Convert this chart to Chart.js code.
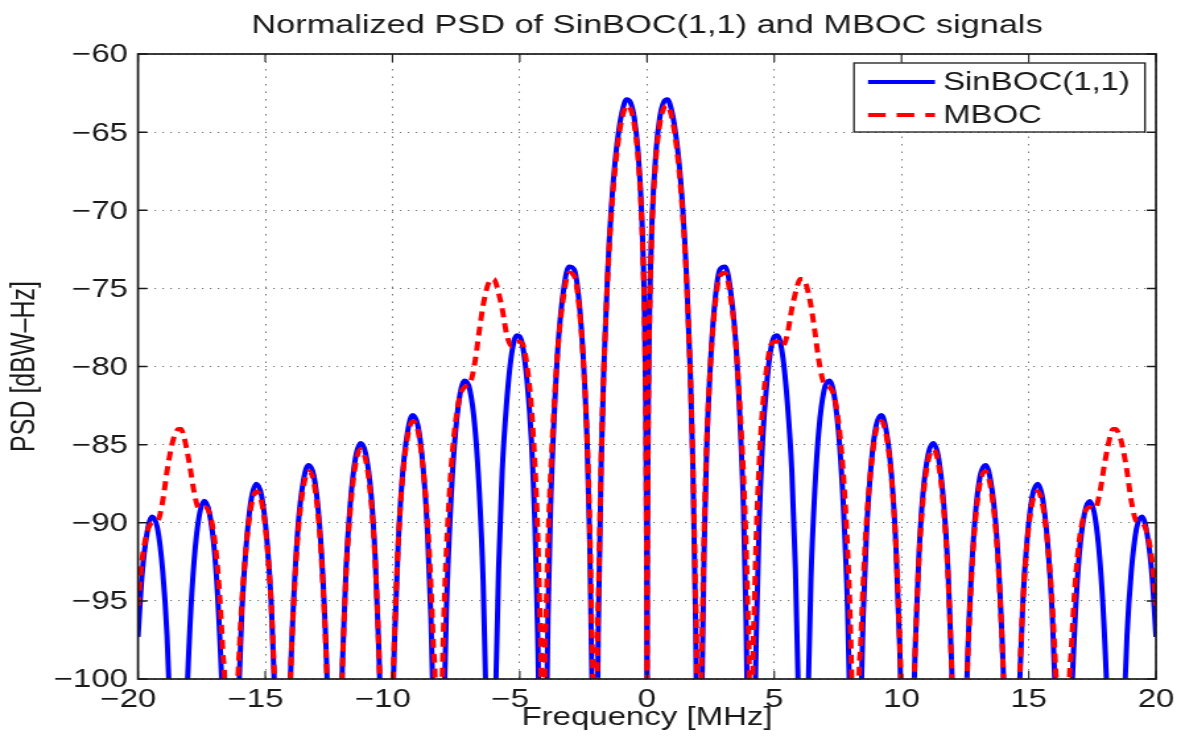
<!DOCTYPE html>
<html>
<head>
<meta charset="utf-8">
<title>Normalized PSD of SinBOC(1,1) and MBOC signals</title>
<script src="https://cdn.jsdelivr.net/npm/chart.js@4.4.1/dist/chart.umd.min.js"></script>
<style>
  html, body { margin: 0; padding: 0; background: #ffffff; width: 1181px; height: 742px; overflow: hidden; }
  #psd { display: block; }
</style>
</head>
<body>
<canvas id="psd" width="895" height="742" style="width:1181px;height:742px"></canvas>
<script>
// ---------------- data ----------------
const chartTitle = 'Normalized PSD of SinBOC(1,1) and MBOC signals';
const xAxisTitle = 'Frequency [MHz]';
const yAxisTitle = 'PSD [dBW\u2013Hz]';
const seriesNames = ['SinBOC(1,1)', 'MBOC'];
const xTickValues = [-20, -15, -10, -5, 0, 5, 10, 15, 20];
const yTickValues = [-100, -95, -90, -85, -80, -75, -70, -65, -60];

// frequency samples [MHz]
const freqMHz = [
  -20, -19.85, -19.64, -19.44, -19.23, -19.03, -18.86, -18.72, -18.62, -18.51, -18.414,
  -18.31, -18.21, -18.11, -17.96, -17.8, -17.6, -17.39, -17.19, -16.98, -16.82, -16.67, -16.57, -16.368,
  -16.16, -16.06, -15.92, -15.75, -15.55, -15.35, -15.14, -14.94, -14.77, -14.63, -14.53, -14.322,
  -14.2, -14.12, -14.02, -13.87, -13.71, -13.5, -13.3, -13.09, -12.89, -12.73, -12.58, -12.48, -12.4, -12.276,
  -12.15, -12.07, -11.97, -11.83, -11.66, -11.46, -11.25, -11.05, -10.84, -10.68, -10.54, -10.43, -10.35, -10.23,
  -10.11, -10.03, -9.92, -9.78, -9.62, -9.41, -9.21, -9.0, -8.8, -8.63, -8.49, -8.39, -8.31, -8.184,
  -8.12, -8.06, -7.98, -7.88, -7.73, -7.57, -7.37, -7.16, -6.96, -6.75, -6.59, -6.44, -6.34, -6.26, -6.2, -6.138,
  -6.08, -6.02, -5.93, -5.83, -5.69, -5.52, -5.32, -5.115, -4.91, -4.71, -4.54, -4.4, -4.3, -4.21, -4.15, -4.092,
  -4.03, -3.97, -3.89, -3.79, -3.64, -3.48, -3.27, -3.07, -2.86, -2.66, -2.5, -2.35, -2.25, -2.17, -2.11, -2.046,
  -1.96, -1.9, -1.8, -1.7, -1.55, -1.4, -1.25, -1.1, -0.95, -0.8, -0.65, -0.5, -0.35, -0.2, -0.1, -0.05, -0.02, -0.005,
  0, 0.005, 0.02, 0.05, 0.1, 0.2, 0.35, 0.5, 0.65, 0.8, 0.95, 1.1, 1.25, 1.4, 1.55, 1.7, 1.8, 1.9, 1.96,
  2.046, 2.11, 2.17, 2.25, 2.35, 2.5, 2.66, 2.86, 3.07, 3.27, 3.48, 3.64, 3.79, 3.89, 3.97, 4.03,
  4.092, 4.15, 4.21, 4.3, 4.4, 4.54, 4.71, 4.91, 5.115, 5.32, 5.52, 5.69, 5.83, 5.93, 6.02, 6.08,
  6.138, 6.2, 6.26, 6.34, 6.44, 6.59, 6.75, 6.96, 7.16, 7.37, 7.57, 7.73, 7.88, 7.98, 8.06, 8.12,
  8.184, 8.31, 8.39, 8.49, 8.63, 8.8, 9.0, 9.21, 9.41, 9.62, 9.78, 9.92, 10.03, 10.11,
  10.23, 10.35, 10.43, 10.54, 10.68, 10.84, 11.05, 11.25, 11.46, 11.66, 11.83, 11.97, 12.07, 12.15,
  12.276, 12.4, 12.48, 12.58, 12.73, 12.89, 13.09, 13.3, 13.5, 13.71, 13.87, 14.02, 14.12, 14.2,
  14.322, 14.53, 14.63, 14.77, 14.94, 15.14, 15.35, 15.55, 15.75, 15.92, 16.06, 16.16,
  16.368, 16.57, 16.67, 16.82, 16.98, 17.19, 17.39, 17.6, 17.8, 17.96, 18.11, 18.21, 18.31,
  18.414, 18.51, 18.62, 18.72, 18.86, 19.03, 19.23, 19.44, 19.64, 19.85, 20
];

// SinBOC(1,1) PSD [dB] (values far below -100 stand for the spectral nulls)
const sinBocDb = [
  -97.3, -93.5, -90.6, -89.6, -90.4, -93.1, -97.2, -103.0, -109.6, -122.5, -150,
  -121.0, -109.4, -102.7, -96.7, -92.5, -89.6, -88.6, -89.4, -92.1, -96.2, -102.0, -108.6, -150,
  -108.4, -101.7, -95.7, -91.5, -88.5, -87.5, -88.3, -91.0, -95.0, -100.8, -107.5, -150,
  -116.0, -107.2, -100.5, -94.5, -90.2, -87.3, -86.3, -87.0, -89.7, -93.7, -99.5, -106.2, -114.8, -150,
  -114.6, -105.9, -99.1, -93.1, -88.8, -85.9, -84.9, -85.6, -88.2, -92.2, -98.0, -104.6, -113.2, -150,
  -113.0, -104.2, -97.5, -91.5, -87.2, -84.2, -83.1, -83.8, -86.4, -90.4, -96.1, -102.7, -111.3, -150,
  -123.1, -111.0, -102.3, -95.5, -89.4, -85.1, -82.0, -80.9, -81.5, -84.1, -88.0, -93.7, -100.3, -108.8, -120.7, -150,
  -120.5, -108.5, -99.7, -92.9, -86.7, -82.4, -79.2, -78.0, -78.5, -81.0, -84.8, -90.4, -96.9, -105.4, -117.2, -150,
  -117.0, -104.9, -96.0, -89.1, -82.9, -78.3, -75.0, -73.6, -73.8, -76.0, -79.6, -85.0, -91.3, -99.6, -111.3, -150,
  -104.9, -95.5, -86.2, -80.3, -74.1, -69.8, -66.8, -64.8, -63.5, -62.9, -63.1, -64.1, -66.3, -70.6, -76.4, -82.4, -90.4, -102.4,
  -150, -102.4, -90.4, -82.4, -76.4, -70.6, -66.3, -64.1, -63.1, -62.9, -63.5, -64.8, -66.8, -69.8, -74.1, -80.3, -86.2, -95.5, -104.9,
  -150, -111.3, -99.6, -91.3, -85.0, -79.6, -76.0, -73.8, -73.6, -75.0, -78.3, -82.9, -89.1, -96.0, -104.9, -117.0,
  -150, -117.2, -105.4, -96.9, -90.4, -84.8, -81.0, -78.5, -78.0, -79.2, -82.4, -86.7, -92.9, -99.7, -108.5, -120.5,
  -150, -120.7, -108.8, -100.3, -93.7, -88.0, -84.1, -81.5, -80.9, -82.0, -85.1, -89.4, -95.5, -102.3, -111.0, -123.1,
  -150, -111.3, -102.7, -96.1, -90.4, -86.4, -83.8, -83.1, -84.2, -87.2, -91.5, -97.5, -104.2, -113.0,
  -150, -113.2, -104.6, -98.0, -92.2, -88.2, -85.6, -84.9, -85.9, -88.8, -93.1, -99.1, -105.9, -114.6,
  -150, -114.8, -106.2, -99.5, -93.7, -89.7, -87.0, -86.3, -87.3, -90.2, -94.5, -100.5, -107.2, -116.0,
  -150, -107.5, -100.8, -95.0, -91.0, -88.3, -87.5, -88.5, -91.5, -95.7, -101.7, -108.4,
  -150, -108.6, -102.0, -96.2, -92.1, -89.4, -88.6, -89.6, -92.5, -96.7, -102.7, -109.4, -121.0,
  -150, -122.5, -109.6, -103.0, -97.2, -93.1, -90.4, -89.6, -90.6, -93.5, -97.3
];

// MBOC PSD [dB]
const mbocDb = [
  -95.3, -92.5, -90.6, -90.0, -89.9, -88.6, -86.7, -85.4, -84.7, -84.2, -84.0,
  -84.0, -84.4, -85.1, -86.4, -88.0, -89.1, -89.0, -89.4, -91.2, -94.0, -98.2, -102.5, -150,
  -103.6, -99.5, -95.1, -91.5, -88.9, -88.0, -88.7, -91.2, -95.1, -100.5, -106.4, -150,
  -115.5, -107.0, -100.5, -94.8, -90.6, -87.7, -86.7, -87.4, -90.1, -94.1, -99.9, -106.6, -115.2, -150,
  -115.0, -106.3, -99.5, -93.5, -89.2, -86.3, -85.3, -86.0, -88.6, -92.5, -98.0, -104.1, -111.2, -150,
  -110.4, -103.2, -97.1, -91.5, -87.4, -84.5, -83.5, -84.1, -86.5, -89.8, -94.0, -98.0, -102.4, -150,
  -107.4, -101.1, -96.0, -91.7, -87.3, -84.2, -82.0, -81.3, -81.1, -79.6, -77.7, -76.1, -75.3, -74.8, -74.6, -74.4,
  -74.4, -74.4, -74.7, -75.3, -76.3, -77.9, -78.7, -78.4, -78.5, -80.0, -82.7, -86.5, -90.5, -95.9, -102.4, -150,
  -102.2, -96.1, -91.3, -87.0, -82.3, -78.4, -75.4, -74.0, -74.2, -76.3, -79.7, -84.7, -90.2, -96.9, -104.5, -150,
  -101.0, -94.1, -86.0, -80.4, -74.4, -70.2, -67.3, -65.2, -63.9, -63.3, -63.5, -64.5, -66.7, -71.0, -76.9, -82.8, -90.8, -102.8,
  -150, -102.8, -90.8, -82.8, -76.9, -71.0, -66.7, -64.5, -63.5, -63.3, -63.9, -65.2, -67.3, -70.2, -74.4, -80.4, -86.0, -94.1, -101.0,
  -150, -104.5, -96.9, -90.2, -84.7, -79.7, -76.3, -74.2, -74.0, -75.4, -78.4, -82.3, -87.0, -91.3, -96.1, -102.2,
  -150, -102.4, -95.9, -90.5, -86.5, -82.7, -80.0, -78.5, -78.4, -78.7, -77.9, -76.3, -75.3, -74.7, -74.4, -74.4,
  -74.4, -74.6, -74.8, -75.3, -76.1, -77.7, -79.6, -81.1, -81.3, -82.0, -84.2, -87.3, -91.7, -96.0, -101.1, -107.4,
  -150, -102.4, -98.0, -94.0, -89.8, -86.5, -84.1, -83.5, -84.5, -87.4, -91.5, -97.1, -103.2, -110.4,
  -150, -111.2, -104.1, -98.0, -92.5, -88.6, -86.0, -85.3, -86.3, -89.2, -93.5, -99.5, -106.3, -115.0,
  -150, -115.2, -106.6, -99.9, -94.1, -90.1, -87.4, -86.7, -87.7, -90.6, -94.8, -100.5, -107.0, -115.5,
  -150, -106.4, -100.5, -95.1, -91.2, -88.7, -88.0, -88.9, -91.5, -95.1, -99.5, -103.6,
  -150, -102.5, -98.2, -94.0, -91.2, -89.4, -89.0, -89.1, -88.0, -86.4, -85.1, -84.4, -84.0,
  -84.0, -84.2, -84.7, -85.4, -86.7, -88.6, -89.9, -90.0, -90.6, -92.5, -95.3
];

// ---------------- layout / style ----------------
const CANVAS_W = 895, CANVAS_H = 742;          // bitmap size (shown stretched to 1181 px wide)
const SX = 1181 / CANVAS_W;                    // horizontal stretch of the reference picture
const FONT = '"Liberation Sans", Arial, Helvetica, sans-serif';
const TEXT = '#1a1a1a';
const PLOT_LEFT = 138 / SX, PLOT_RIGHT = 1156 / SX, PLOT_BOTTOM = 679;

const blueLine = '#0000ff', redLine = '#ff0000';

function toPoints(ys) { return freqMHz.map((f, i) => ({ x: f, y: ys[i] })); }
function fmt(v) { return (v < 0 ? '\u2212' : '') + Math.abs(v); }

const matlabFrame = {
  id: 'matlabFrame',
  afterDatasetsDraw(chart) {
    const { ctx, chartArea: a, scales: { x, y } } = chart;
    ctx.save();
    ctx.strokeStyle = TEXT;
    ctx.setLineDash([]);
    // inward tick marks on all four sides
    ctx.lineWidth = 1.1;
    xTickValues.forEach(v => {
      const px = x.getPixelForValue(v);
      ctx.beginPath();
      ctx.moveTo(px, a.bottom); ctx.lineTo(px, a.bottom - 8);
      ctx.moveTo(px, a.top); ctx.lineTo(px, a.top + 8);
      ctx.stroke();
    });
    ctx.lineWidth = 1.5;
    yTickValues.forEach(v => {
      const py = y.getPixelForValue(v);
      ctx.beginPath();
      ctx.moveTo(a.left, py); ctx.lineTo(a.left + 7, py);
      ctx.moveTo(a.right, py); ctx.lineTo(a.right - 7, py);
      ctx.stroke();
    });
    // box
    ctx.lineWidth = 1.7;
    ctx.strokeRect(a.left, a.top, a.right - a.left, a.bottom - a.top);

    // x tick labels: digits centred on the tick, minus sign hanging to the left
    ctx.fillStyle = TEXT;
    ctx.font = '25px ' + FONT;
    ctx.textBaseline = 'alphabetic';
    xTickValues.forEach(v => {
      const px = x.getPixelForValue(v);
      const digits = String(Math.abs(v));
      const w = ctx.measureText(digits).width;
      ctx.textAlign = 'right';
      ctx.fillText(fmt(v), px + w / 2, 707);
    });

    // legend box
    const lx0 = 854 / SX, lx1 = 1145 / SX, ly0 = 63, ly1 = 132;
    ctx.fillStyle = '#ffffff';
    ctx.fillRect(lx0, ly0, lx1 - lx0, ly1 - ly0);
    ctx.lineWidth = 1.3;
    ctx.strokeStyle = TEXT;
    ctx.strokeRect(lx0, ly0, lx1 - lx0, ly1 - ly0);
    const s0 = 868 / SX, s1 = 935 / SX, tx = 943 / SX;
    const ds = chart.data.datasets;
    const rows = [
      { ds: ds.find(d => d.label === seriesNames[0]), y: 82, base: 90, dash: [] },
      { ds: ds.find(d => d.label === seriesNames[1]), y: 115, base: 123, dash: [13.4, 8.3] }
    ];
    rows.forEach(r => {
      ctx.beginPath();
      ctx.setLineDash(r.dash);
      ctx.lineWidth = 4;
      ctx.strokeStyle = r.ds.borderColor;
      ctx.moveTo(s0, r.y); ctx.lineTo(s1, r.y);
      ctx.stroke();
      ctx.setLineDash([]);
      ctx.fillStyle = TEXT;
      ctx.textAlign = 'left';
      ctx.font = '25px ' + FONT;
      ctx.fillText(r.ds.label, tx, r.base);
    });
    ctx.restore();
  }
};

new Chart(document.getElementById('psd'), {
  type: 'line',
  data: {
    datasets: [
      {
        label: seriesNames[0],
        data: toPoints(sinBocDb),
        borderColor: blueLine,
        borderWidth: 4,
        pointRadius: 0,
        fill: false,
        cubicInterpolationMode: 'monotone',
        capBezierPoints: false,
        borderJoinStyle: 'round',
        clip: 0,
        order: 2
      },
      {
        label: seriesNames[1],
        data: toPoints(mbocDb),
        borderColor: redLine,
        borderWidth: 4,
        borderDash: [9, 6],
        pointRadius: 0,
        fill: false,
        cubicInterpolationMode: 'monotone',
        capBezierPoints: false,
        borderJoinStyle: 'round',
        clip: 0,
        order: 1
      }
    ]
  },
  options: {
    responsive: false,
    animation: false,
    devicePixelRatio: 1,
    events: [],
    layout: { padding: { left: 0, right: CANVAS_W - PLOT_RIGHT, top: 0, bottom: 0 } },
    plugins: {
      legend: { display: false },
      tooltip: { enabled: false },
      title: {
        display: true,
        text: chartTitle,
        fullSize: false,
        color: TEXT,
        font: { family: FONT, size: 26, weight: 'normal', lineHeight: 1.2 },
        padding: { top: 10, bottom: 12.8 }
      }
    },
    scales: {
      x: {
        type: 'linear',
        min: -20, max: 20,
        afterBuildTicks: s => { s.ticks = xTickValues.map(v => ({ value: v })); },
        ticks: { display: false },
        grid: { color: 'rgba(0,0,0,0.55)', lineWidth: 1, drawTicks: false },
        border: { display: false, dash: [1.5, 6] },
        title: {
          display: true, text: xAxisTitle, color: TEXT,
          font: { family: FONT, size: 25, lineHeight: 1.2 },
          padding: { top: 0, bottom: 9 }
        },
        afterFit: s => { s.height = CANVAS_H - PLOT_BOTTOM; }
      },
      y: {
        type: 'linear',
        min: -100, max: -60,
        afterBuildTicks: s => { s.ticks = yTickValues.map(v => ({ value: v })); },
        ticks: {
          color: TEXT,
          font: { family: FONT, size: 25 },
          padding: PLOT_LEFT - 97,
          labelOffset: 1.5,
          callback: v => fmt(v)
        },
        grid: { color: 'rgba(0,0,0,0.55)', lineWidth: 1, drawTicks: false },
        border: { display: false, dash: [1.2, 4.8] },
        title: {
          display: true, text: yAxisTitle, color: TEXT,
          font: { family: FONT, size: 25, lineHeight: 1.2 },
          padding: { top: 4, bottom: 0 }
        },
        afterFit: s => { s.width = PLOT_LEFT; }
      }
    }
  },
  plugins: [matlabFrame]
});
</script>
</body>
</html>
